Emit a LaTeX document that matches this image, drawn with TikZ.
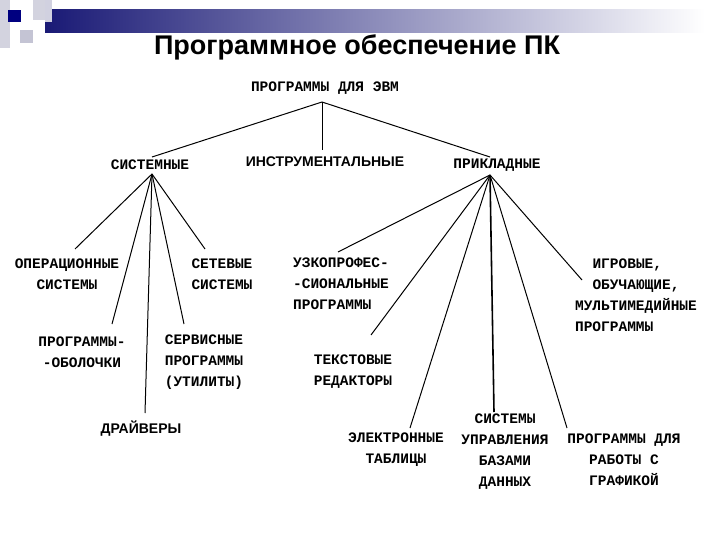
\documentclass[tikz,border=0pt]{standalone}
\usepackage{fontspec}
\setmainfont{Liberation Sans}
\newfontfamily\monob{Liberation Mono}[BoldFont={* Bold}]
\begin{document}
\begin{tikzpicture}[x=1pt,y=-1pt,
  lbl/.style={font=\monob\bfseries\fontsize{14.5}{21}\selectfont,align=center,inner sep=0pt},
  sl/.style={font=\bfseries\fontsize{14}{16}\selectfont,inner sep=0pt},
  ln/.style={line width=1pt}]
\useasboundingbox (0,0) rectangle (720,540);
% decoration
\shade[left color=blue!40!black!90, right color=white] (45,10) rectangle (705,33);
\fill[blue!15!gray!30] (0,0) rectangle (10,48);
\fill[blue!15!gray!30] (33,0) rectangle (50,20);
\fill[blue!15!gray!40] (20,30) rectangle (33,43);
\fill[blue!20!gray!30] (45,0) rectangle (52,22);
\fill[blue!50!black] (8,10) rectangle (21,22);
\node[font=\bfseries\fontsize{27}{30}\selectfont] (title) at (357,47) {Программное обеспечение ПК};
% nodes
\node[lbl] (root) at (325,88) {ПРОГРАММЫ ДЛЯ ЭВМ};
\node[lbl] (sys) at (150,165) {СИСТЕМНЫЕ};
\node[sl] (instr) at (325,162) {ИНСТРУМЕНТАЛЬНЫЕ};
\node[lbl] (app) at (497,165) {ПРИКЛАДНЫЕ};
\node[lbl] (os) at (67,274) {ОПЕРАЦИОННЫЕ\\СИСТЕМЫ};
\node[lbl] (net) at (222,274) {СЕТЕВЫЕ\\СИСТЕМЫ};
\node[lbl] (shell) at (82,352) {ПРОГРАММЫ-\\-ОБОЛОЧКИ};
\node[lbl] (util) at (204,362) {СЕРВИСНЫЕ\\ПРОГРАММЫ\\(УТИЛИТЫ)};
\node[sl] (drv) at (141,429) {ДРАЙВЕРЫ};
\node[lbl,align=left] (uzk) at (341,284) {УЗКОПРОФЕС-\\-СИОНАЛЬНЫЕ\\ПРОГРАММЫ};
\node[lbl,align=left] (txt) at (353,372) {ТЕКСТОВЫЕ\\РЕДАКТОРЫ};
\node[lbl,align=left] (game) at (636,295) {\ \ ИГРОВЫЕ,\\\ \ ОБУЧАЮЩИЕ,\\МУЛЬТИМЕДИЙНЫЕ\\ПРОГРАММЫ};
\node[lbl] (tab) at (396,450) {ЭЛЕКТРОННЫЕ\\ТАБЛИЦЫ};
\node[lbl] (db) at (505,452) {СИСТЕМЫ\\УПРАВЛЕНИЯ\\БАЗАМИ\\ДАННЫХ};
\node[lbl] (gr) at (624,460) {ПРОГРАММЫ ДЛЯ\\РАБОТЫ С\\ГРАФИКОЙ};
% connector points
\coordinate (r0) at (322,102);
\coordinate (s0) at (152,174);
\coordinate (a0) at (490,175);
\draw[ln] (r0) -- (152,157);
\draw[ln] (r0) -- (322,150);
\draw[ln] (r0) -- (490,157);
\draw[ln] (s0) -- (75,249);
\draw[ln] (s0) -- (112,324);
\draw[ln] (s0) -- (145,413);
\draw[ln] (s0) -- (184,324);
\draw[ln] (s0) -- (205,249);
\draw[ln] (a0) -- (338,252);
\draw[ln] (a0) -- (371,335);
\draw[ln] (a0) -- (410,428);
\draw[ln,line width=1.6pt] (a0) -- (494,412);
\draw[ln] (a0) -- (567,428);
\draw[ln] (a0) -- (582,280);
\end{tikzpicture}
\end{document}
